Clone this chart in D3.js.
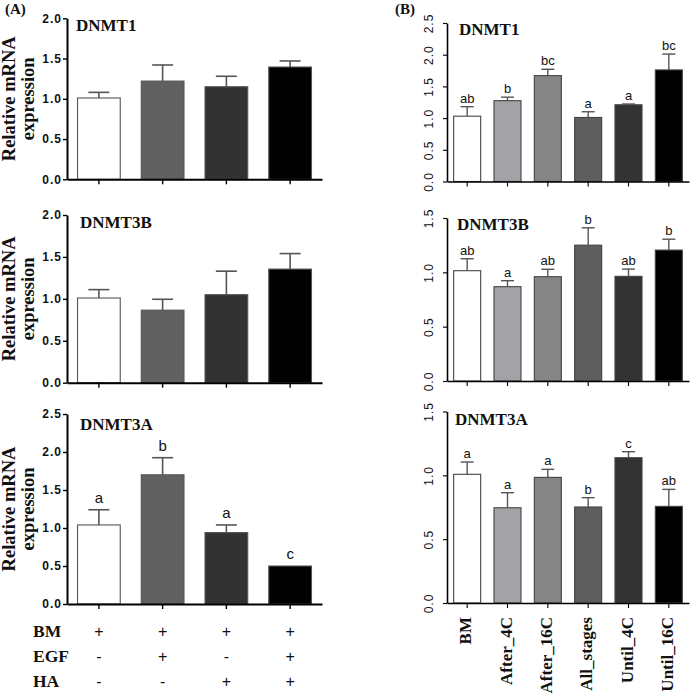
<!DOCTYPE html>
<html><head><meta charset="utf-8">
<script src="https://cdn.jsdelivr.net/npm/d3@7"></script>
<style>body{margin:0;background:#fff} svg{display:block;background:#fff}</style>
</head><body><svg id="c" width="694" height="698"></svg>
<script>
// ---------- data ----------
const genes = ["DNMT1", "DNMT3B", "DNMT3A"];

// Panel A (treatments: BM, BM+EGF, BM+HA, BM+EGF+HA)
const groupsA = ["BM", "BM+EGF", "BM+HA", "BM+EGF+HA"];
const rowLabelsA = ["BM", "EGF", "HA"];
const signsBM  = ["+", "+", "+", "+"];
const signsEGF = ["-", "+", "-", "+"];
const signsHA  = ["-", "-", "+", "+"];
const meanA_DNMT1  = [1.01, 1.22, 1.15, 1.395];
const errA_DNMT1   = [0.07, 0.20, 0.13, 0.075];
const meanA_DNMT3B = [1.01, 0.865, 1.05, 1.355];
const errA_DNMT3B  = [0.10, 0.13, 0.28, 0.185];
const meanA_DNMT3A = [1.04, 1.70, 0.94, 0.50];
const errA_DNMT3A  = [0.20, 0.225, 0.10, 0.0];
const lettersA_DNMT1  = ["", "", "", ""];
const lettersA_DNMT3B = ["", "", "", ""];
const lettersA_DNMT3A = ["a", "b", "a", "c"];
const ticksA_DNMT1  = [0, 0.5, 1.0, 1.5, 2.0];
const ticksA_DNMT3B = [0, 0.5, 1.0, 1.5, 2.0];
const ticksA_DNMT3A = [0, 0.5, 1.0, 1.5, 2.0, 2.5];

// Panel B (timing of supplementation)
const groupsB = ["BM", "After_4C", "After_16C", "All_stages", "Until_4C", "Until_16C"];
const meanB_DNMT1  = [1.03, 1.275, 1.67, 1.01, 1.21, 1.76];
const errB_DNMT1   = [0.15, 0.055, 0.10, 0.09, 0.012, 0.25];
const meanB_DNMT3B = [1.015, 0.868, 0.96, 1.25, 0.963, 1.205];
const errB_DNMT3B  = [0.11, 0.055, 0.068, 0.16, 0.067, 0.10];
const meanB_DNMT3A = [1.008, 0.746, 0.984, 0.752, 1.138, 0.757];
const errB_DNMT3A  = [0.096, 0.118, 0.063, 0.073, 0.047, 0.133];
const lettersB_DNMT1  = ["ab", "b", "bc", "a", "a", "bc"];
const lettersB_DNMT3B = ["ab", "a", "ab", "b", "ab", "b"];
const lettersB_DNMT3A = ["a", "a", "a", "b", "c", "ab"];
const ticksB_DNMT1  = [0, 0.5, 1.0, 1.5, 2.0, 2.5];
const ticksB_DNMT3B = [0, 0.5, 1.0, 1.5];
const ticksB_DNMT3A = [0, 0.5, 1.0, 1.5];

const yLabelLines = ["Relative mRNA", "expression"];

// ---------- styles ----------
const colorsA = ["#ffffff", "#616161", "#323232", "#000000"];
const colorsB = ["#ffffff", "#a3a3a7", "#858585", "#5e5e5e", "#333333", "#000000"];
const serif = "'Liberation Serif','Times New Roman',serif";
const sans = "'Liberation Sans',Arial,sans-serif";

const svg = d3.select("#c");
svg.append("rect").attr("width", 694).attr("height", 698).attr("fill", "#fff");

function drawPanel(cfg) {
  const g = svg.append("g");
  const x = d3.scaleBand().domain(cfg.groups).range([cfg.x0, cfg.x1])
    .paddingInner(cfg.pad).paddingOuter(cfg.pad / 2);
  const y = d3.scaleLinear().domain([0, cfg.max]).range([cfg.yb, cfg.yt]);
  const bw = x.bandwidth();
  const idx = cfg.groups.map((d, i) => i);

  // bars
  g.selectAll("rect.bar").data(idx).join("rect")
    .attr("x", i => x(cfg.groups[i]))
    .attr("y", i => y(cfg.mean[i]))
    .attr("width", bw)
    .attr("height", i => cfg.yb - y(cfg.mean[i]))
    .attr("fill", i => cfg.colors[i])
    .attr("stroke", cfg.barStroke).attr("stroke-width", 1.1);

  // error bars (upper only)
  const eb = g.selectAll("g.err").data(idx.filter(i => cfg.err[i] > 0)).join("g")
    .attr("stroke", cfg.errColor).attr("stroke-width", cfg.errWidth).attr("fill", "none");
  eb.append("line")
    .attr("x1", i => x(cfg.groups[i]) + bw / 2).attr("x2", i => x(cfg.groups[i]) + bw / 2)
    .attr("y1", i => y(cfg.mean[i])).attr("y2", i => y(cfg.mean[i] + cfg.err[i]));
  eb.append("line")
    .attr("x1", i => x(cfg.groups[i]) + bw / 2 - cfg.cap / 2)
    .attr("x2", i => x(cfg.groups[i]) + bw / 2 + cfg.cap / 2)
    .attr("y1", i => y(cfg.mean[i] + cfg.err[i])).attr("y2", i => y(cfg.mean[i] + cfg.err[i]));

  // significance letters
  g.selectAll("text.let").data(idx.filter(i => cfg.letters[i])).join("text")
    .attr("x", i => x(cfg.groups[i]) + bw / 2)
    .attr("y", i => y(cfg.mean[i] + cfg.err[i]) - cfg.letGap)
    .attr("text-anchor", "middle")
    .attr("font-family", sans).attr("font-size", cfg.letSize)
    .attr("fill", "#111")
    .text(i => cfg.letters[i]);

  // y axis
  const ya = g.append("g").attr("transform", `translate(${cfg.x0},0)`)
    .call(d3.axisLeft(y).tickValues(cfg.ticks).tickFormat(d3.format(".1f"))
      .tickSize(4).tickSizeOuter(0).tickPadding(1));
  ya.select(".domain").attr("stroke-width", cfg.axisW);
  ya.selectAll(".tick line").attr("stroke-width", cfg.axisW * 0.7);
  ya.selectAll("text").attr("font-family", sans).attr("font-size", 12)
    .attr("font-weight", cfg.tickBold ? "bold" : "normal")
    .attr("letter-spacing", "1px").attr("fill", "#111");
  if (cfg.rotTicks) {
    ya.selectAll(".tick text").attr("x", null).attr("dy", null)
      .attr("text-anchor", "middle")
      .attr("transform", "translate(-14,0) rotate(-90)");
  }

  // x axis
  const xa = g.append("g").attr("transform", `translate(0,${cfg.yb})`)
    .call(d3.axisBottom(x).tickSize(5).tickSizeOuter(0).tickFormat(""));
  xa.select(".domain").attr("stroke-width", cfg.axisW);
  xa.selectAll(".tick line").attr("stroke-width", cfg.axisW * 0.7);

  if (cfg.xLabels) {
    g.selectAll("text.xl").data(idx).join("text")
      .attr("transform", i => `translate(${x(cfg.groups[i]) + bw / 2 + 4},${cfg.yb + 14}) rotate(-90)`)
      .attr("text-anchor", "end")
      .attr("font-family", serif).attr("font-weight", "bold").attr("font-size", 17)
      .attr("fill", "#111")
      .text(i => cfg.groups[i]);
  }

  // title
  g.append("text").attr("x", cfg.tx).attr("y", cfg.ty)
    .attr("font-family", serif).attr("font-weight", "bold").attr("font-size", 17)
    .attr("fill", "#111").text(cfg.title);

  // y label
  if (cfg.yLabel) {
    const cy = (cfg.yb + cfg.yt) / 2;
    yLabelLines.forEach((t, k) => {
      g.append("text").attr("transform", `translate(${15 + k * 19},${cy}) rotate(-90)`)
        .attr("text-anchor", "middle").attr("font-family", serif)
        .attr("font-weight", "bold").attr("font-size", 18.5).attr("fill", "#111").text(t);
    });
  }
  return x;
}

const commonA = { groups: groupsA, x0: 67, x1: 322, pad: 0.33, colors: colorsA,
  barStroke: "#555", errColor: "#555", errWidth: 1.6, cap: 21, letGap: 7, letSize: 15,
  axisW: 2, tickBold: true, rotTicks: false, yLabel: true, tx: 76 };
drawPanel({ ...commonA, title: genes[0], yb: 179.3, yt: 18.3, max: 2.0, ticks: ticksA_DNMT1,
  mean: meanA_DNMT1, err: errA_DNMT1, letters: lettersA_DNMT1, ty: 30.7 });
drawPanel({ ...commonA, title: genes[1], yb: 382.7, yt: 215, max: 2.0, ticks: ticksA_DNMT3B,
  mean: meanA_DNMT3B, err: errA_DNMT3B, letters: lettersA_DNMT3B, tx: 80, ty: 227.7 });
const xA = drawPanel({ ...commonA, title: genes[2], yb: 604, yt: 414, max: 2.5, ticks: ticksA_DNMT3A,
  mean: meanA_DNMT3A, err: errA_DNMT3A, letters: lettersA_DNMT3A, tx: 80, ty: 430 });

// +/- treatment table under panel A
const signRows = [signsBM, signsEGF, signsHA];
const rowBase = [637.3, 662.3, 687.3];
rowLabelsA.forEach((lab, r) => {
  svg.append("text").attr("x", 33).attr("y", rowBase[r])
    .attr("font-family", serif).attr("font-weight", "bold").attr("font-size", 17.5)
    .attr("fill", "#111").text(lab);
  signRows[r].forEach((s, i) => {
    svg.append("text").attr("x", xA(groupsA[i]) + xA.bandwidth() / 2).attr("y", rowBase[r])
      .attr("text-anchor", "middle").attr("font-family", sans).attr("font-size", 16)
      .attr("fill", "#111").text(s);
  });
});

const commonB = { groups: groupsB, x0: 447, x1: 689, pad: 0.33, colors: colorsB,
  barStroke: "#444", errColor: "#555", errWidth: 1.4, cap: 13, letGap: 4, letSize: 13,
  axisW: 1.6, tickBold: false, rotTicks: true, yLabel: false };
drawPanel({ ...commonB, title: genes[0], yb: 181.5, yt: 23, max: 2.5, ticks: ticksB_DNMT1,
  mean: meanB_DNMT1, err: errB_DNMT1, letters: lettersB_DNMT1, tx: 459, ty: 35 });
drawPanel({ ...commonB, title: genes[1], yb: 381, yt: 218, max: 1.5, ticks: ticksB_DNMT3B,
  mean: meanB_DNMT3B, err: errB_DNMT3B, letters: lettersB_DNMT3B, tx: 457, ty: 230 });
drawPanel({ ...commonB, title: genes[2], yb: 603, yt: 411.5, max: 1.5, ticks: ticksB_DNMT3A,
  mean: meanB_DNMT3A, err: errB_DNMT3A, letters: lettersB_DNMT3A, tx: 455, ty: 425, xLabels: true });

// panel tags
svg.append("text").attr("x", 5).attr("y", 14).attr("font-family", serif)
  .attr("font-weight", "bold").attr("font-size", 15).attr("fill", "#111").text("(A)");
svg.append("text").attr("x", 395).attr("y", 14).attr("font-family", serif)
  .attr("font-weight", "bold").attr("font-size", 15).attr("fill", "#111").text("(B)");
</script></body></html>
